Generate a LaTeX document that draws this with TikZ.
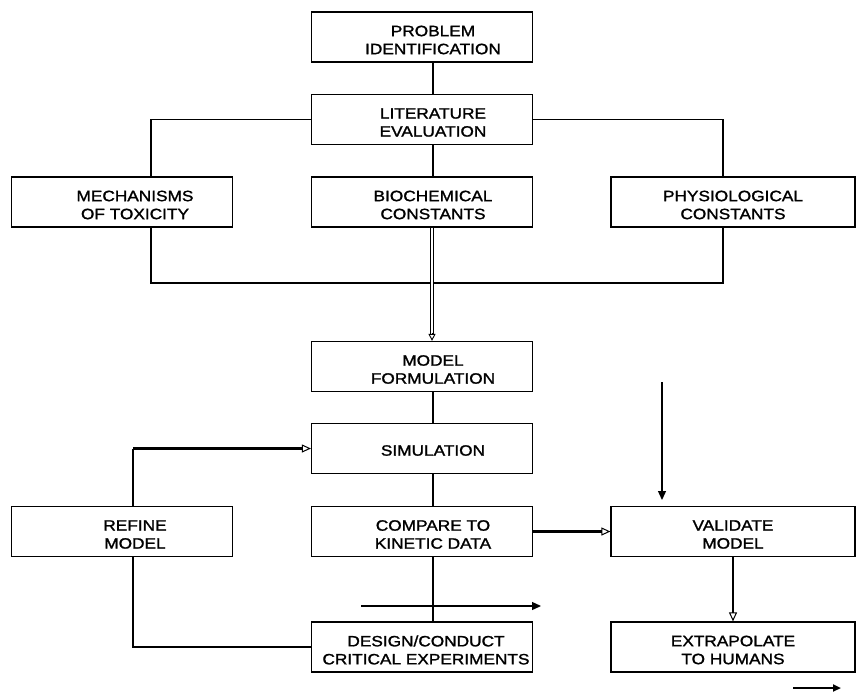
\documentclass[tikz,border=0pt]{standalone}
\usepackage{fontspec}
\setmainfont{Liberation Sans}[FakeStretch=1.15,FakeBold=1.5]
\usetikzlibrary{arrows.meta,calc}
\begin{document}
\begin{tikzpicture}[x=1pt,y=-1pt,
  box/.style={draw,line width=1.2pt,minimum width=221pt,minimum height=50pt,inner sep=0pt},
  wbox/.style={box,minimum width=244pt},
  txt/.style={align=center,inner sep=0pt,font=\fontsize{15}{18}\selectfont},
  conn/.style={line width=1.2pt},
  thick arrow/.style={line width=2.6pt,-{Triangle[open,length=9pt,width=8pt,line width=1pt]}},
  thin arrow/.style={line width=1.3pt,-{Triangle[length=9pt,width=8pt]}}]
\path[use as bounding box] (0,0) rectangle (857,691);
% boxes
\node[box] (prob) at (422,37) {};
\node[box] (lit) at (422,119.5) {};
\node[box] (mech) at (122,202) {};
\node[box] (bio) at (422,202) {};
\node[wbox] (phys) at (733,202) {};
\node[box] (mf) at (422,366.5) {};
\node[box] (sim) at (422,448.5) {};
\node[box] (refine) at (122,531.5) {};
\node[box] (cmp) at (422,531.5) {};
\node[wbox] (val) at (733,531.5) {};
\node[box] (design) at (422,647) {};
\node[wbox] (extra) at (733,647) {};
% texts
\node[txt] (tprob) at ($(prob)+(11,3)$) {PROBLEM\\IDENTIFICATION};
\node[txt] (tlit) at ($(lit)+(11,3)$) {LITERATURE\\EVALUATION};
\node[txt] (tmech) at ($(mech)+(13,3)$) {MECHANISMS\\OF TOXICITY};
\node[txt] (tbio) at ($(bio)+(11,3)$) {BIOCHEMICAL\\CONSTANTS};
\node[txt] (tphys) at ($(phys)+(0,3)$) {PHYSIOLOGICAL\\CONSTANTS};
\node[txt] (tmf) at ($(mf)+(11,3)$) {MODEL\\FORMULATION};
\node[txt] (tsim) at ($(sim)+(11,2)$) {SIMULATION};
\node[txt] (trefine) at ($(refine)+(13,3)$) {REFINE\\MODEL};
\node[txt] (tcmp) at ($(cmp)+(11,3)$) {COMPARE TO\\KINETIC DATA};
\node[txt] (tval) at ($(val)+(0,3)$) {VALIDATE\\MODEL};
\node[txt] (tdesign) at ($(design)+(4,3)$) {DESIGN/CONDUCT\\CRITICAL EXPERIMENTS};
\node[txt] (textra) at ($(extra)+(0,3)$) {EXTRAPOLATE\\TO HUMANS};
% coordinates
\coordinate (lx) at (151,119.5);
\coordinate (rx) at (723,119.5);
\coordinate (jl) at (151,283);
\coordinate (jr) at (723,283);
\coordinate (fb) at (133,448.5);
\coordinate (rl) at (133,647);
\coordinate (va) at (662,382);
\coordinate (vb) at (662,500);
\coordinate (ha) at (361,606);
\coordinate (hb) at (541,606);
\coordinate (sa) at (793,688);
\coordinate (sb) at (841,688);
% connectors
\draw[conn] (prob.south -| 433,0) -- (lit.north -| 433,0);
\draw[conn] (lit.south -| 433,0) -- (bio.north -| 433,0);
\draw[conn] (lit.west) -- (lx) -- (mech.north -| lx);
\draw[conn] (lit.east) -- (rx) -- (phys.north -| rx);
\draw[conn] (mech.south -| jl) -- (jl) -- (jr) -- (phys.south -| jr);
\draw[line width=1.1pt,double distance=1.6pt,shorten >=7pt] (bio.south -| 432,0) -- (mf.north -| 432,0);
\draw[line width=0.9pt,-{Triangle[open,length=7pt,width=7pt,line width=0.9pt]}] ($(mf.north -| 432,0)+(0,-8)$) -- (mf.north -| 432,0);
\draw[conn] (mf.south -| 433,0) -- (sim.north -| 433,0);
\draw[conn] (sim.south -| 433,0) -- (cmp.north -| 433,0);
\draw[conn] (cmp.south -| 433,0) -- (design.north -| 433,0);
\draw[conn] (refine.north -| fb) -- (fb);
\draw[thick arrow] (fb) -- (sim.west);
\draw[conn] (refine.south -| rl) -- (rl) -- (design.west);
\draw[thick arrow] (cmp.east) -- (val.west);
\draw[thick arrow] (val.south -| 733,0) -- (extra.north -| 733,0);
\draw[thin arrow] (va) -- (vb);
\draw[thin arrow] (ha) -- (hb);
\draw[line width=2.4pt,-{Triangle[length=8pt,width=7pt]}] (sa) -- (sb);
\end{tikzpicture}
\end{document}
